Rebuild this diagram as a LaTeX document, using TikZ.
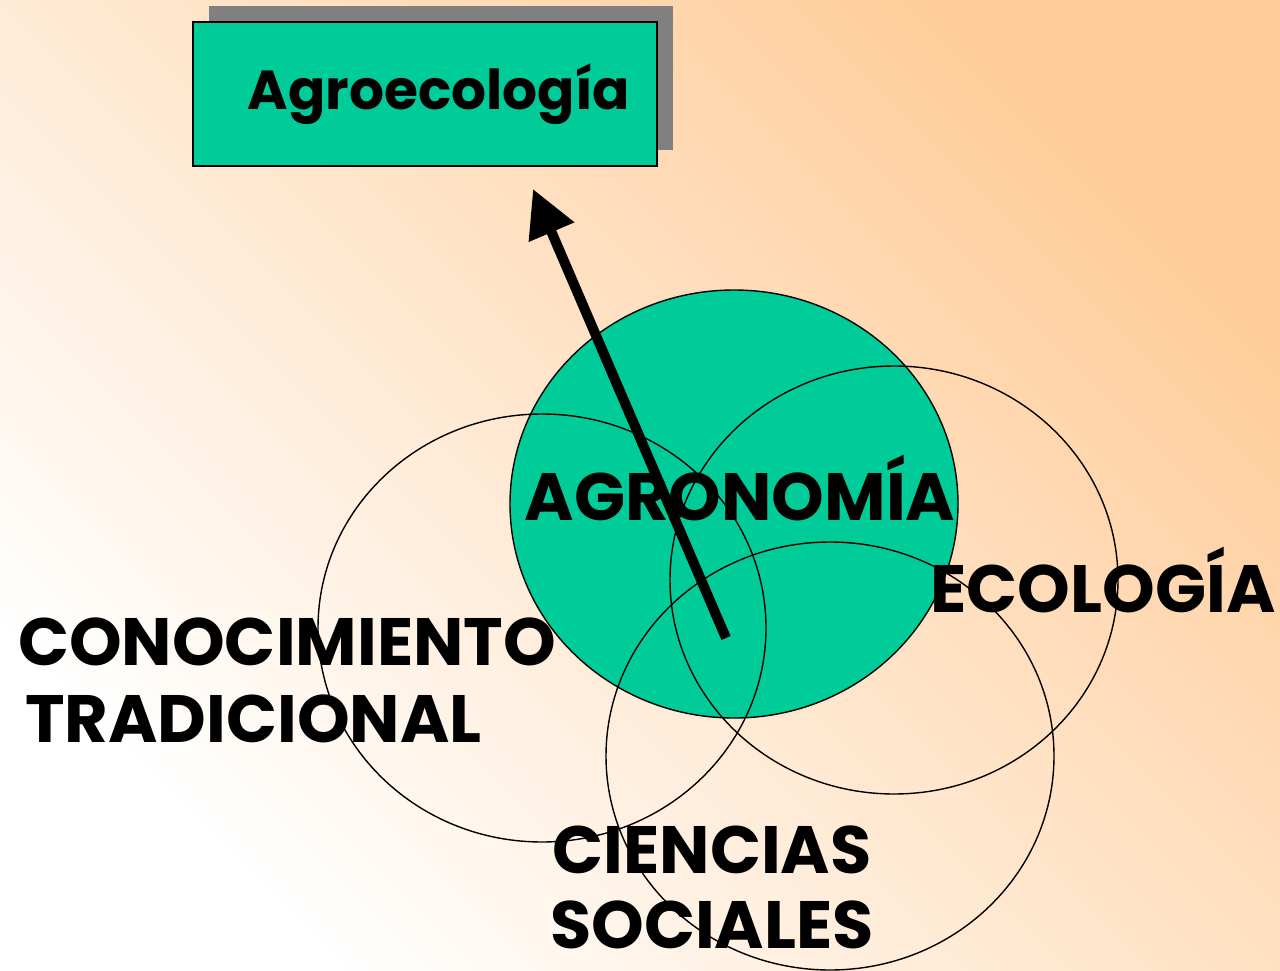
\documentclass[tikz,border=0pt]{standalone}
\usepackage{fontspec}
\setmainfont{Poppins}
\usetikzlibrary{arrows.meta,shapes.geometric,shadows}
\usepackage{xcolor}
\definecolor{agrogreen}{HTML}{00CC99}
\definecolor{peach}{HTML}{FFCC99}
\definecolor{shadowgray}{HTML}{808080}

\begin{document}
\begin{tikzpicture}[x=1pt, y=-1pt,
  field/.style={ellipse, draw, line width=1.4pt, minimum width=448pt,
                minimum height=428pt, inner sep=0pt, outer sep=0pt},
  bigword/.style={font=\fontsize{67}{74}\selectfont\bfseries,
                  inner sep=0pt, anchor=base},
  titlebox/.style={rectangle, draw, line width=1.2pt, fill=agrogreen,
                   minimum height=144pt, text width=410pt, align=right,
                   inner xsep=27pt, font=\fontsize{55}{62}\selectfont\bfseries,
                   drop shadow={shadow xshift=16pt, shadow yshift=16pt,
                                fill=shadowgray, opacity=1}},
  push/.style={line width=10pt, -{Triangle[length=47pt, width=47pt]}},
]
  % --- Background ---
  \useasboundingbox (0,0) rectangle (1280,971);
  \shade[top color=peach, bottom color=white, shading angle=-45]
    (0,0) rectangle (1280,971);

  % --- Title ---
  \node[titlebox] (agroeco) at (425,94) {Agroecología};

  % --- Fields ---
  \node[field, fill=agrogreen] (agronomia) at (734,504) {};
  \node[field] (conocimiento) at (542,628) {};
  \node[field] (ecologia) at (894,580) {};
  \node[field] (ciencias) at (830,756) {};

  % --- Arrow up to the title ---
  \coordinate (pushstart) at (726,638);
  \coordinate (pushtip) at (533,189);
  \draw[push] (pushstart) -- (pushtip);

  % --- Labels ---
  \node[bigword] (agrolabel) at (740,520) {AGRONOMÍA};
  \node[bigword] (ecolabel) at (1103,612) {ECOLOGÍA};
  \node[bigword, anchor=base west] (conolabel) at (18,665) {CONOCIMIENTO};
  \node[bigword, anchor=base west] (tradlabel) at (25,742) {TRADICIONAL};
  \node[bigword] (cienlabel) at (712,873) {CIENCIAS};
  \node[bigword] (soclabel) at (712,948) {SOCIALES};
\end{tikzpicture}
\end{document}
